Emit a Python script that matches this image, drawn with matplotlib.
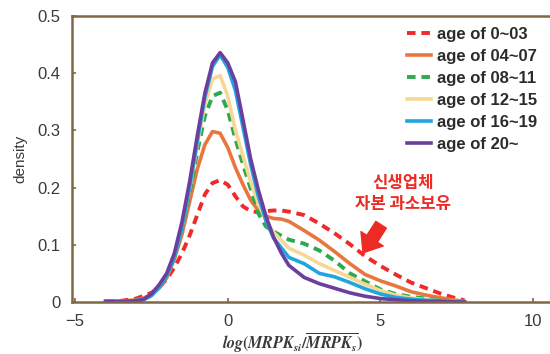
import matplotlib

matplotlib.use("Agg")
import matplotlib.pyplot as plt

plt.rcParams["font.family"] = ["Liberation Sans", "DejaVu Sans"]
# bold italic serif for the axis formula
plt.rcParams["mathtext.fontset"] = "custom"
plt.rcParams["mathtext.rm"] = "STIXGeneral:bold"
plt.rcParams["mathtext.it"] = "STIXGeneral:italic:bold"
plt.rcParams["mathtext.bf"] = "STIXGeneral:italic:bold"

# kernel density of log(MRPK) deviation by firm age group
x = [-4, -3.5, -3, -2.75, -2.5, -2.25, -2, -1.75, -1.5, -1.25, -1, -0.75, -0.5,
     -0.25, 0, 0.25, 0.5, 0.75, 1, 1.25, 1.5, 1.75, 2, 2.5, 3, 3.5, 4, 4.5, 5,
     5.5, 6, 6.5, 7, 7.5, 7.75]

age_0_03 = [0.001, 0.002, 0.006, 0.011, 0.016, 0.025, 0.040, 0.060, 0.085, 0.116,
            0.152, 0.188, 0.208, 0.213, 0.205, 0.185, 0.167, 0.159, 0.157, 0.159,
            0.160, 0.160, 0.158, 0.152, 0.137, 0.120, 0.101, 0.080, 0.063, 0.048,
            0.034, 0.024, 0.014, 0.006, 0.003]
age_04_07 = [0.001, 0.001, 0.004, 0.007, 0.013, 0.024, 0.042, 0.075, 0.118, 0.175,
             0.232, 0.275, 0.298, 0.295, 0.270, 0.235, 0.205, 0.178, 0.160, 0.150,
             0.146, 0.145, 0.141, 0.125, 0.108, 0.088, 0.067, 0.048, 0.037, 0.028,
             0.018, 0.012, 0.007, 0.003, 0.001]
age_08_11 = [0.001, 0.001, 0.003, 0.006, 0.013, 0.026, 0.046, 0.078, 0.128, 0.190,
             0.262, 0.325, 0.360, 0.366, 0.335, 0.285, 0.240, 0.198, 0.155, 0.132,
             0.123, 0.116, 0.109, 0.102, 0.090, 0.072, 0.050, 0.036, 0.022, 0.014,
             0.009, 0.006, 0.003, 0.001, 0.000]
age_12_15 = [0.001, 0.001, 0.002, 0.005, 0.012, 0.026, 0.046, 0.080, 0.132, 0.198,
             0.275, 0.345, 0.390, 0.396, 0.360, 0.300, 0.255, 0.210, 0.172, 0.143,
             0.122, 0.108, 0.094, 0.082, 0.067, 0.055, 0.043, 0.031, 0.020, 0.012,
             0.007, 0.004, 0.002, 0.001, 0.000]
age_16_19 = [0.001, 0.001, 0.002, 0.004, 0.011, 0.025, 0.045, 0.078, 0.130, 0.200,
             0.280, 0.358, 0.412, 0.432, 0.410, 0.370, 0.305, 0.240, 0.185, 0.142,
             0.112, 0.095, 0.078, 0.067, 0.050, 0.044, 0.034, 0.023, 0.014, 0.008,
             0.005, 0.003, 0.002, 0.001, 0.000]
age_20_plus = [0.001, 0.001, 0.002, 0.005, 0.014, 0.030, 0.050, 0.085, 0.140, 0.210,
               0.290, 0.365, 0.418, 0.436, 0.418, 0.385, 0.318, 0.250, 0.196, 0.150,
               0.113, 0.086, 0.064, 0.043, 0.032, 0.024, 0.016, 0.010, 0.006, 0.004,
               0.002, 0.001, 0.001, 0.000, 0.000]

labels = ["age of 0~03", "age of 04~07", "age of 08~11",
          "age of 12~15", "age of 16~19", "age of 20~"]
series = [age_0_03, age_04_07, age_08_11, age_12_15, age_16_19, age_20_plus]
colors = ["#ee2a2a", "#e8773f", "#2eaa4e", "#f6d795", "#1fa6df", "#6a3f9e"]
dashed = [True, False, True, False, False, False]

frame = "#7f6747"
red = "#ee2a24"

fig = plt.figure(figsize=(5.5, 3.54), dpi=100)
ax = fig.add_axes([72 / 550, 1 - 302 / 354, 1 - 72 / 550, (302 - 16) / 354])

for ys, lab, c, d in zip(series, labels, colors, dashed):
    if d:
        ax.plot(x, ys, color=c, lw=2.8, label=lab, dashes=(2.2, 1.5))
    else:
        ax.plot(x, ys, color=c, lw=2.6, label=lab, solid_joinstyle="round")

ax.set_xlim(-5.1, 10.55)
ax.set_ylim(0, 0.5)
ax.set_xticks([-5, 0, 5, 10])
ax.set_xticklabels(["\u22125", "0", "5", "10"])
ax.set_yticks([0, 0.1, 0.2, 0.3, 0.4, 0.5])
ax.set_yticklabels(["0", "0.1", "0.2", "0.3", "0.4", "0.5"])
ax.tick_params(direction="in", length=3, width=1.2, color=frame,
               labelsize=12, labelcolor="#3a3a3a", pad=8.5)

for side in ["left", "bottom", "top"]:
    ax.spines[side].set_color(frame)
    ax.spines[side].set_linewidth(1.8)
ax.spines["right"].set_visible(False)

ax.set_ylabel("density", fontsize=11, color="#3a3a3a")
ax.yaxis.set_label_coords(-0.094, 0.5)
ax.set_xlabel(r"$log(MRPK_{si}/\overline{MRPK_s})$", fontsize=11.5, color="#3a3a3a")
ax.xaxis.set_label_coords((292 - 72) / 478, -0.1)

leg = ax.legend(loc="upper left", bbox_to_anchor=(407 / 550, 1 - 27 / 354),
                bbox_transform=fig.transFigure, frameon=False, borderpad=0,
                borderaxespad=0, handlelength=1.45, handletextpad=0.36,
                labelspacing=0.42, prop={"weight": "bold", "size": 12})
for t in leg.get_texts():
    t.set_color("#2b2b2b")

ax.text(5.74, 0.19, "신생업체\n자본 과소보유", color=red, fontsize=12,
        fontweight="bold", ha="center", va="center", linespacing=1.2,
        family=["Noto Sans CJK KR", "DejaVu Sans"])
ax.annotate("", xy=(4.43, 0.086), xytext=(5.02, 0.135),
            arrowprops=dict(arrowstyle="simple,head_width=0.95,head_length=0.6,tail_width=0.45",
                            color=red, mutation_scale=20, shrinkA=0, shrinkB=0))

fig.savefig("out.png", dpi=100)
